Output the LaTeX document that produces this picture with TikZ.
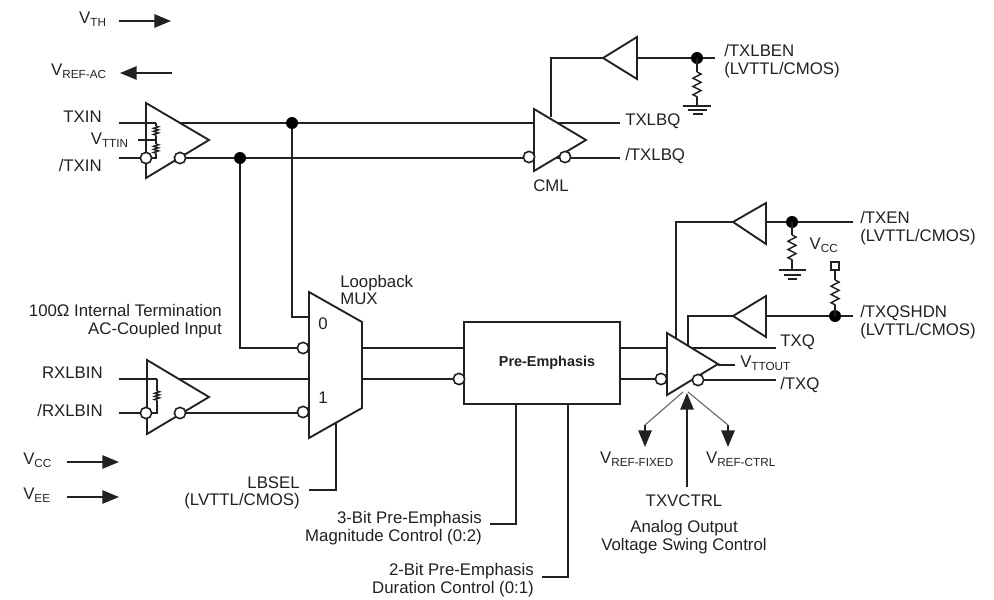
\documentclass[tikz,border=0pt]{standalone}
\usepackage{fontspec}
\setmainfont{Liberation Sans}
\usetikzlibrary{arrows.meta,decorations.pathmorphing}
\definecolor{ink}{gray}{0.13}
\newcommand{\vs}[1]{V\textsubscript{\fontsize{8.8}{9}\selectfont #1}}
\tikzset{
  wire/.style={draw=ink,line width=1.4pt},
  thin wire/.style={draw=ink!70,line width=0.8pt},
  gate/.style={draw=ink,line width=1.4pt,fill=white,line join=miter},
  bub/.style={circle,draw=ink,line width=1.2pt,fill=white,minimum size=8.5pt,inner sep=0pt},
  dotn/.style={circle,fill=black,minimum size=9pt,inner sep=0pt},
  lbl/.style={text=ink,inner sep=0pt,font=\fontsize{12.6}{13}\selectfont,align=center},
  lblr/.style={lbl,anchor=east,align=right},
  lbll/.style={lbl,anchor=west,align=left},
  res/.style={decorate,decoration={zigzag,amplitude=3pt,segment length=6.2pt}},
  ares/.style={decorate,decoration={zigzag,amplitude=1.8pt,segment length=2.3pt}},
  rline/.style={draw=ink,line width=1.1pt},
  big/.style={-{Triangle[length=12.5pt,width=10pt]},draw=ink,line width=1.4pt},
}
\begin{document}
\begin{tikzpicture}[x=0.75pt,y=-0.75pt]
\useasboundingbox (0,0) rectangle (994,599);
% top arrows
\coordinate (vth0) at (119,21); \coordinate (vth1) at (171,21);
\draw[big] (vth0) -- (vth1);
\coordinate (va0) at (172,73); \coordinate (va1) at (120,73);
\draw[big] (va0) -- (va1);
\node[lblr] (lvth) at (107,19) {\vs{TH}};
\node[lblr] (lvac) at (107,71) {\vs{REF-AC}};
\node[lblr] (ltxin) at (102,117) {TXIN};
\node[lblr] (lntxin) at (102,165) {/TXIN};
\node[lblr] (lvttin) at (129,140) {\vs{TTIN}};
% --- long wires
\coordinate (t1a) at (119,123); \coordinate (t1b) at (620,123);
\coordinate (t2a) at (119,158); \coordinate (t2b) at (620,158);
\draw[wire] (t1a) -- (t1b);
\draw[wire] (t2a) -- (t2b);
\coordinate (r1a) at (119,379); \coordinate (r1b) at (464,379);
\coordinate (r2a) at (119,413); \coordinate (r2b) at (300,413);
\draw[wire] (r1a) -- (r1b);
\draw[wire] (r2a) -- (r2b);
\coordinate (d1) at (292,123); \coordinate (d2) at (240,158);
\draw[wire] (d1) |- (309,317);
\draw[wire] (d2) |- (300,348);
\draw[wire] (362,348) -- (464,348);
% input buffer
\draw[gate] (146,103) -- (209,140) -- (146,178) -- cycle;
\draw[wire] (119,123) -- (156,123);
\draw[wire] (119,158) -- (146,158);
\draw[rline] (156,123) -- (156,126);
\draw[rline,ares] (156,126) -- (156,136);
\draw[rline] (156,136) -- (156,144);
\draw[rline,ares] (156,144) -- (156,154);
\draw[rline] (156,154) -- (156,158) -- (146,158);
\draw[wire] (138,140) -- (156,140);
\node[bub] (b1) at (146,158) {};
\node[bub] (b2) at (180,158) {};
\node[dotn] (nd1) at (d1) {};
\node[dotn] (nd2) at (d2) {};
% RX buffer
\draw[gate] (147,360) -- (209,397) -- (147,434) -- cycle;
\draw[wire] (119,379) -- (157,379);
\draw[wire] (119,413) -- (146,413);
\draw[rline] (157,379) -- (157,391);
\draw[rline,ares] (157,391) -- (157,401);
\draw[rline] (157,401) -- (157,413) -- (146,413);
\node[bub] (b3) at (146,413) {};
\node[bub] (b4) at (180,413) {};
\node[lblr] (lrx) at (103,373) {RXLBIN};
\node[lblr] (lnrx) at (103,410) {/RXLBIN};
\node[lblr] (l100) at (222,321) {100Ω Internal Termination\\AC-Coupled Input};
% MUX
\draw[gate] (309,292) -- (362,322) -- (362,408) -- (309,438) -- cycle;
\node[bub] (b5) at (303,348) {};
\node[bub] (b6) at (303,412) {};
\node[lbl] (l0) at (323,324) {0};
\node[lbl] (l1) at (323,398) {1};
\node[lbll] (lmux) at (340,290) {Loopback\\MUX};
\coordinate (sel0) at (336,423); \coordinate (sel2) at (309,490);
\draw[wire] (sel0) |- (sel2);
\node[lblr] (lsel) at (300,493) {LBSEL\\(LVTTL/CMOS)};
% Pre-emphasis
\node[draw=ink,line width=1.4pt,fill=white,minimum width=117pt,minimum height=61.5pt,inner sep=0pt,font=\fontsize{10.8}{12}\selectfont\bfseries,text=ink] (pe) at (542,363) {\hspace*{7.5pt}Pre-Emphasis};
\node[bub] (b7) at (459,379) {};
\coordinate (m0) at (516,405); \coordinate (m2) at (490,524);
\draw[wire] (m0) |- (m2);
\coordinate (n0) at (568,405); \coordinate (n2) at (542,577);
\draw[wire] (n0) |- (n2);
\node[lblr] (lm) at (482,528) {3-Bit Pre-Emphasis\\Magnitude Control (0:2)};
\node[lblr] (ln) at (534,580) {2-Bit Pre-Emphasis\\Duration Control (0:1)};
% out driver
\draw[wire] (620,348) -- (667,348);
\draw[wire] (620,379) -- (657,379);
\draw[wire] (676,340) |- (733,222);
\draw[wire] (688,345) |- (733,316);
\draw[gate] (667,333) -- (718,364) -- (667,395) -- cycle;
\draw[wire] (692,348) -- (776,348);
\draw[wire] (703,380) -- (776,380);
\draw[wire] (718,365) -- (735,365);
\node[bub] (b8) at (661,379) {};
\node[bub] (b9) at (698,380) {};
\node[lbll] (ltxq) at (780,342) {TXQ};
\node[lbll] (lntxq) at (780,385) {/TXQ};
\node[lbll] (lvtt) at (740,363) {\vs{TTOUT}};
% arrows beneath
\coordinate (c0) at (687,487); \coordinate (c1) at (687,393);
\draw[big] (c0) -- (c1);
\coordinate (f0) at (683,392); \coordinate (f1) at (645,425); \coordinate (f2) at (645,447);
\coordinate (g0) at (688,392); \coordinate (g1) at (728,425); \coordinate (g2) at (728,447);
\draw[thin wire] (f0) -- (f1);
\draw[thin wire] (g0) -- (g1);
\draw[big] (f1) -- (f2);
\draw[big] (g1) -- (g2);
\node[lbl] (lvf) at (637,459) {\vs{REF-FIXED}};
\node[lbl] (lvc) at (741,459) {\vs{REF-CTRL}};
\node[lbl] (lctrl) at (684,501) {TXVCTRL};
\node[lbl] (lan) at (684,537) {Analog Output\\Voltage Swing Control};
% top buffer
\draw[wire] (551,117) |- (603,58);
\draw[gate] (603,58) -- (637,37) -- (637,79) -- cycle;
\draw[wire] (637,58) -- (715,58);
\node[dotn] (nd3) at (697,58) {};
\draw[rline] (697,58) -- (697,72);
\draw[rline,res] (697,72) -- (697,97);
\draw[rline] (697,97) -- (697,106);
\draw[wire] (683,106) -- (711,106);
\draw[wire] (688,110) -- (707,110);
\draw[wire] (693,114) -- (703,114);
\node[lbll] (ltxl) at (724,61) {/TXLBEN\\(LVTTL/CMOS)};
% CML
\draw[gate] (534,109) -- (586,140) -- (534,171) -- cycle;
\draw[wire] (560,123) -- (620,123);
\node[bub] (b10) at (529,157) {};
\node[bub] (b11) at (565,157) {};
\node[lbl] (lcml) at (551,186) {CML};
\node[lbll] (ltq) at (625,121) {TXLBQ};
\node[lbll] (lntq) at (625,156) {/TXLBQ};
% enable
\draw[gate] (733,222) -- (766,203) -- (766,244) -- cycle;
\draw[wire] (766,222) -- (853,222);
\node[dotn] (nd4) at (792,222) {};
\draw[rline] (792,222) -- (792,235);
\draw[rline,res] (792,235) -- (792,260);
\draw[rline] (792,260) -- (792,270);
\draw[wire] (779,270) -- (806,270);
\draw[wire] (784,275) -- (801,275);
\draw[wire] (788,279) -- (797,279);
\node[lbll] (lten) at (860,228) {/TXEN\\(LVTTL/CMOS)};
% shutdown
\draw[gate] (733,316) -- (766,296) -- (766,337) -- cycle;
\draw[wire] (766,316) -- (853,316);
\node[dotn] (nd5) at (835,316) {};
\node[draw=ink,line width=1.1pt,fill=white,minimum size=6pt,inner sep=0pt] (sq) at (835,266) {};
\draw[rline] (sq) -- (835,280);
\draw[rline,res] (835,280) -- (835,305);
\draw[rline] (835,305) -- (835,316);
\node[lbl] (lvcc) at (824,245) {\vs{CC}};
\node[lbll] (lsd) at (860,322) {/TXQSHDN\\(LVTTL/CMOS)};
% bottom-left
\coordinate (u0) at (67,462); \coordinate (u1) at (119,462);
\coordinate (w0) at (67,497); \coordinate (w1) at (119,497);
\draw[big] (u0) -- (u1);
\draw[big] (w0) -- (w1);
\node[lbll] (lvcc2) at (23,460) {\vs{CC}};
\node[lbll] (lvee) at (23,495) {\vs{EE}};
\end{tikzpicture}
\end{document}
